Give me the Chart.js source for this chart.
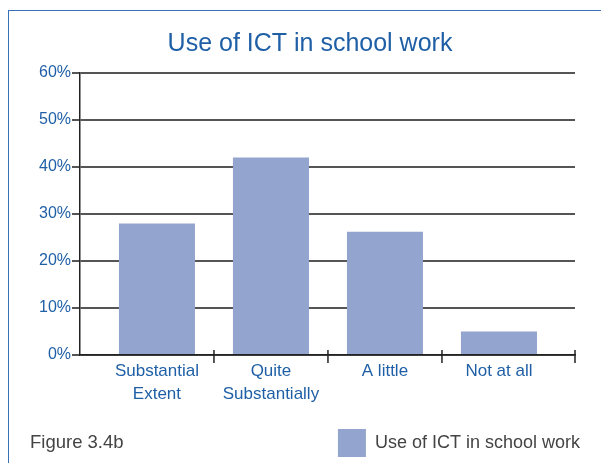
<!DOCTYPE html>
<html>
<head>
<meta charset="utf-8">
<script src="https://cdn.jsdelivr.net/npm/chart.js@4"></script>
<style>
  body { margin: 0; background: #fff; }
  #wrap { position: relative; width: 601px; height: 463px; overflow: hidden; }
  #frame { position: absolute; left: 8px; top: 10px; width: 700px; height: 500px;
           border-top: 1.5px solid #3572b8; border-left: 1.5px solid #3572b8; }
  #fig { position: absolute; left: 30px; top: 431px; font: 18.5px "Liberation Sans", Arial, sans-serif; color: #444; }
  canvas { position: absolute; left: 0; top: 0; }
</style>
</head>
<body>
<div id="wrap">
  <div id="frame"></div>
  <canvas id="chart" width="601" height="463"></canvas>
  <div id="fig">Figure 3.4b</div>
</div>
<script>
// data
const categories = [['Substantial', 'Extent'], ['Quite', 'Substantially'], 'A little', 'Not at all'];
const shares = [28, 42, 26.2, 5];
const seriesName = 'Use of ICT in school work';

const blue = '#1f5fa6';
const font = '"Liberation Sans", Arial, sans-serif';

// little tick marks between the categories on the x axis
const catTicks = {
  id: 'catTicks',
  afterDraw(chart) {
    const x = chart.scales.x, y = chart.scales.y;
    const base = y.getPixelForValue(0);
    const ctx = chart.ctx;
    const spots = [];
    for (let i = 0; i < categories.length - 1; i++) spots.push(x.getPixelForValue(i + 0.5));
    spots.push(x.right);
    ctx.save();
    ctx.strokeStyle = '#222';
    ctx.lineWidth = 1.5;
    spots.forEach(px => {
      ctx.beginPath();
      ctx.moveTo(px, base - 5);
      ctx.lineTo(px, base + 8);
      ctx.stroke();
    });
    ctx.restore();
  }
};

// title is centred a bit right of the canvas middle, legend hangs past the plot edge
const nudge = {
  id: 'nudge',
  afterLayout(chart) {
    chart.titleBlock.left = 45;
    chart.titleBlock.right = 575;
    chart.legend.right += 11;
    chart.legend.top += 4;
    chart.legend.bottom += 4;
  }
};

new Chart(document.getElementById('chart'), {
  type: 'bar',
  data: {
    datasets: [{
      label: seriesName,
      data: shares.map((v, i) => ({ x: i, y: v })),
      backgroundColor: '#93a5cf',
      borderWidth: 0,
      categoryPercentage: 1,
      barPercentage: 0.667
    }]
  },
  options: {
    responsive: false,
    animation: false,
    layout: { padding: { left: 0, right: 26, top: 0, bottom: 0 } },
    plugins: {
      title: {
        display: true,
        text: seriesName,
        color: blue,
        font: { family: font, size: 25, weight: 'normal' },
        padding: { top: 29, bottom: 14 }
      },
      legend: {
        position: 'bottom',
        align: 'end',
        labels: {
          boxWidth: 28,
          boxHeight: 28,
          padding: 6,
          color: '#444',
          font: { family: font, size: 18 }
        }
      },
      tooltip: { enabled: false }
    },
    scales: {
      x: {
        type: 'linear',
        offset: false,
        min: -0.675,
        max: 3.667,
        afterBuildTicks: s => { s.ticks = categories.map((_, i) => ({ value: i })); },
        afterFit: s => { s.height = 64; },
        grid: { display: true, drawOnChartArea: false, drawTicks: false },
        border: { color: '#222', width: 1.5 },
        ticks: {
          autoSkip: false,
          maxRotation: 0,
          padding: 5,
          color: blue,
          font: { family: font, size: 17, lineHeight: 1.35 },
          callback: v => categories[v]
        }
      },
      y: {
        min: 0,
        max: 60,
        afterFit: s => { s.width = 80; },
        grid: { color: '#555', lineWidth: 2, tickLength: 8 },
        border: { color: '#222', width: 1.5 },
        ticks: {
          stepSize: 10,
          padding: 1,
          color: blue,
          font: { family: font, size: 16 },
          callback: v => v + '%'
        }
      }
    }
  },
  plugins: [catTicks, nudge]
});
</script>
</body>
</html>
